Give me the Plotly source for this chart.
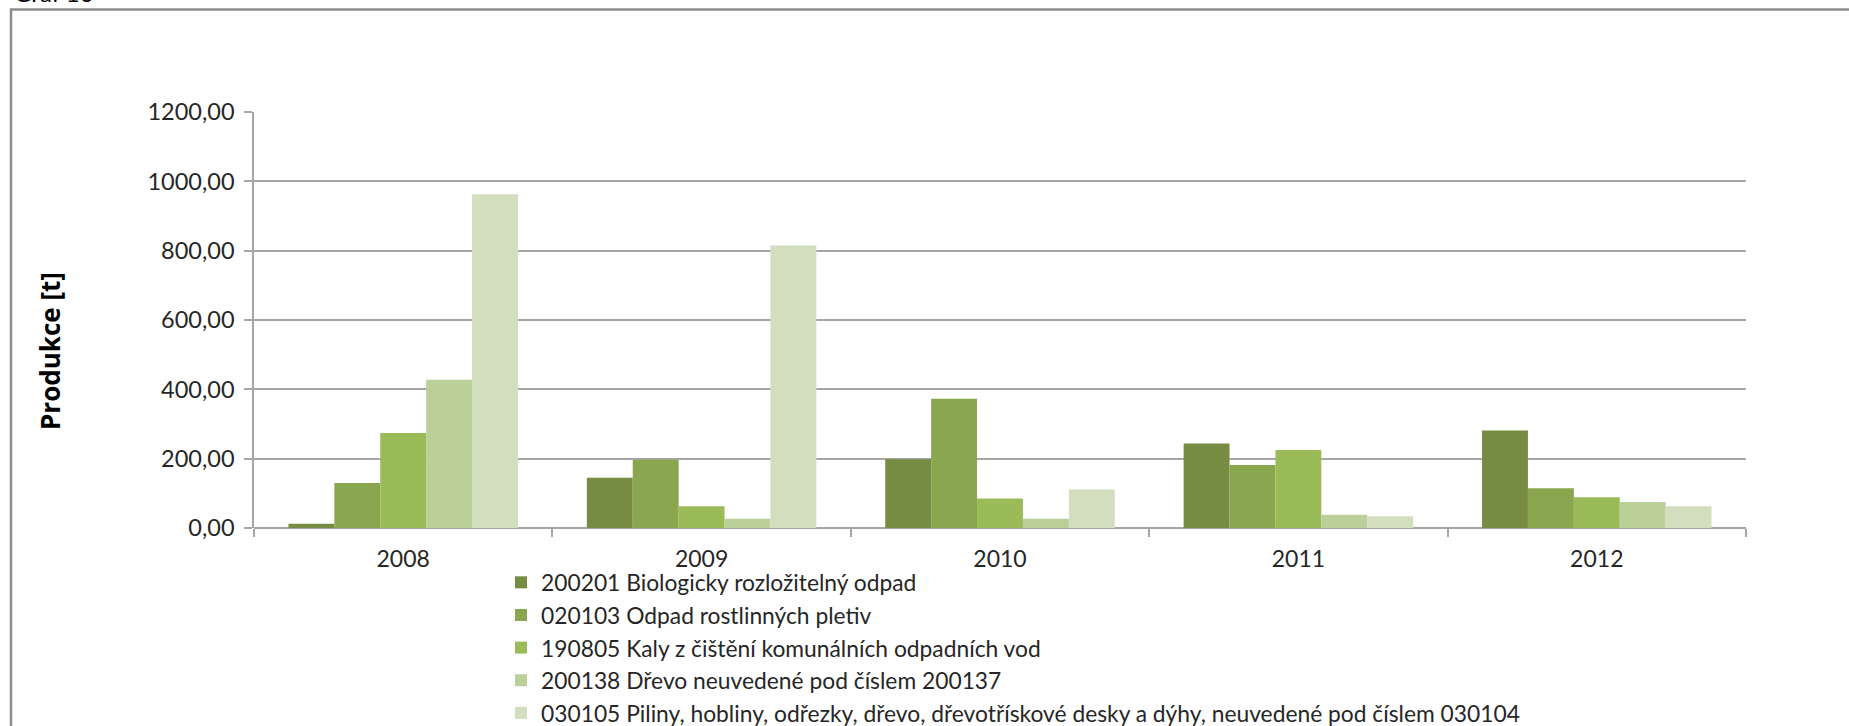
import plotly.graph_objects as go

# Waste production by year and waste code
years = ["2008", "2009", "2010", "2011", "2012"]
series_names = [
    "200201 Biologicky rozložitelný odpad",
    "020103 Odpad rostlinných pletiv",
    "190805 Kaly z čištění komunálních odpadních vod",
    "200138 Dřevo neuvedené pod číslem 200137",
    "030105 Piliny, hobliny, odřezky, dřevo, dřevotřískové desky a dýhy, neuvedené pod číslem 030104",
]
bio_200201 = [12, 145, 198, 244, 281]
plant_020103 = [130, 197, 373, 182, 115]
sludge_190805 = [274, 63, 85, 225, 89]
wood_200138 = [428, 27, 27, 38, 75]
sawdust_030105 = [963, 815, 111, 34, 63]
series_values = [bio_200201, plant_020103, sludge_190805, wood_200138, sawdust_030105]
series_colors = ["#758C42", "#8AA64F", "#9BBB59", "#BBCF99", "#D2DEBE"]

y_title = "Produkce [t]"
chart_label = "Graf 10"

W, H = 1849, 726
ML, MR, MT, MB = 254, 103, 112, 198
PW, PH = W - ML - MR, H - MT - MB

FONT = "Lato, 'Open Sans', sans-serif"
TXT = "#262626"
GRID = "#A6A6A6"


def px_x(x):
    return (x - ML) / PW


def px_y(y):
    return (H - MB - y) / PH


fig = go.Figure()
for name, vals, col in zip(series_names, series_values, series_colors):
    fig.add_trace(go.Bar(
        x=years, y=vals, name=name,
        marker=dict(color=col, line=dict(width=0)),
        legendgroup=name,
    ))

fig.update_layout(
    width=W, height=H,
    margin=dict(l=ML, r=MR, t=MT, b=MB, autoexpand=False),
    paper_bgcolor="white", plot_bgcolor="white",
    barmode="group", bargap=0.2308, bargroupgap=0,
    separators=", ",
    font=dict(family=FONT, size=22, color=TXT),
    showlegend=True,
    legend=dict(
        x=px_x(501), y=px_y(561), xanchor="left", yanchor="top",
        orientation="v", traceorder="normal",
        font=dict(family=FONT, size=22.8, color=TXT),
        bgcolor="rgba(0,0,0,0)", tracegroupgap=6.5,
        itemwidth=30,
    ),
    xaxis=dict(
        type="category", showgrid=False, showline=False,
        ticks="outside", tickson="boundaries", ticklen=8,
        tickcolor=GRID, tickwidth=1.5,
        ticklabelstandoff=15,
        tickfont=dict(family=FONT, size=23, color=TXT),
        zeroline=False,
    ),
    yaxis=dict(
        range=[0, 1200], dtick=200, tickformat=".2f",
        showgrid=True, gridcolor=GRID, gridwidth=1.5,
        showline=True, linecolor=GRID, linewidth=1.5,
        ticks="outside", ticklen=8, tickcolor=GRID, tickwidth=1.5,
        ticklabelstandoff=5,
        tickfont=dict(family=FONT, size=23.5, color=TXT),
        zeroline=True, zerolinecolor=GRID, zerolinewidth=1.5,
    ),
    annotations=[
        dict(text=y_title, textangle=-90, x=px_x(50), y=px_y(351),
             xref="paper", yref="paper", showarrow=False,
             xanchor="center", yanchor="middle",
             font=dict(family="'Open Sans', sans-serif", size=26,
                       color="black", weight="bold")),
        dict(text=chart_label, x=px_x(12), y=px_y(9),
             xref="paper", yref="paper", showarrow=False,
             xanchor="left", yanchor="bottom",
             font=dict(family=FONT, size=24, color="black")),
    ],
    shapes=[
        dict(type="rect", xref="paper", yref="paper",
             x0=px_x(11), x1=px_x(1860), y0=px_y(740), y1=px_y(9.5),
             line=dict(color="#8C8C8C", width=2.5), fillcolor="rgba(0,0,0,0)",
             layer="below"),
    ],
)

fig.write_html("out.html")
